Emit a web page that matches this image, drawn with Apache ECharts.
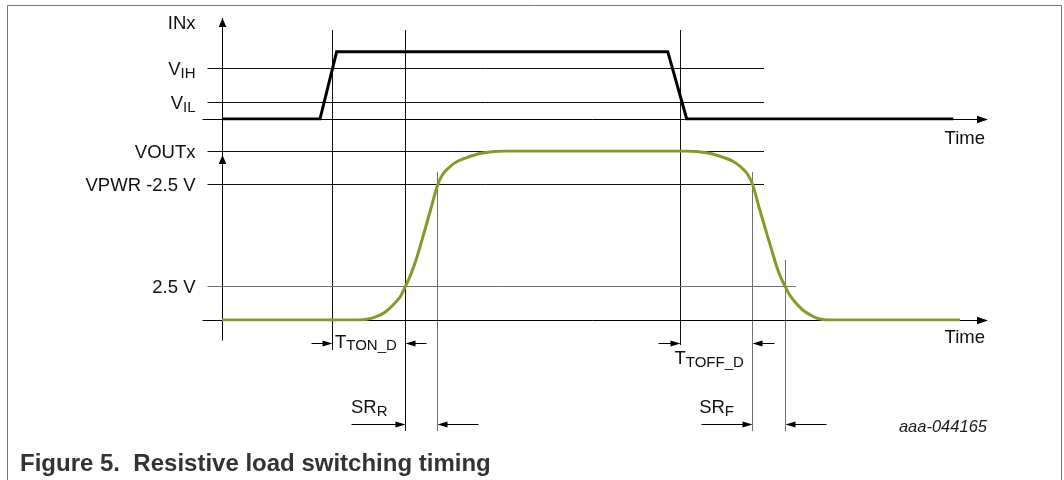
<!DOCTYPE html>
<html>
<head>
<meta charset="utf-8">
<title>Resistive load switching timing</title>
<script src="https://cdn.jsdelivr.net/npm/echarts@6.0.0/dist/echarts.min.js"></script>
<style>
  html, body { margin: 0; padding: 0; background: #ffffff; }
  #chart { width: 1064px; height: 480px; }
</style>
</head>
<body>
<div id="chart"></div>
<script>
// ---------- time base shared by both traces (arbitrary units) ----------
const timeMin = 0;
const timeMax = 100;

// ---------- INx input drive ----------
const inTimes  = [0, 12.79, 14.97, 58.19, 60.67, 95.47];
const inLevels = [0, 0, 1, 1, 0, 0];
const inLevelMax = 1.5;
const inThresholdMain   = ['V', 'V'];
const inThresholdSub    = ['IH', 'IL'];
const inThresholdLevels = [0.75, 0.25];
const inThresholdEnd    = 70.76;

// ---------- VOUTx output, volts (VPWR = 12.5 V) ----------
const outTimes = [0, 17.75, 19.06, 20.23, 21.41, 22.45, 23.24, 23.96, 24.54, 25.33, 26.33, 27.15, 28.16,
                  28.85, 29.77, 30.81, 31.98, 33.68, 35.51, 36.95,
                  60.50, 61.93, 63.76, 65.46, 66.63, 67.68, 68.59, 69.28,
                  70.10, 71.11, 71.80, 72.42, 72.98, 73.50, 74.15, 75.03, 75.98, 77.19, 78.07, 79.15, 96.34];
const outVolts = [0, 0, 0.07, 0.26, 0.63, 1.18, 1.70, 2.5, 3.22, 4.44, 6.36, 7.99, 10,
                  10.80, 11.35, 11.76, 12.02, 12.31, 12.46, 12.5,
                  12.5, 12.46, 12.31, 12.02, 11.76, 11.35, 10.80, 10,
                  8.36, 6.41, 5.10, 3.94, 3.11, 2.5, 1.81, 1.18, 0.67, 0.26, 0.07, 0, 0];
const outVoltMax = 12.5;
const outLevelLabels = ['VOUTx', 'VPWR -2.5 V', '2.5 V'];
const outLevelVolts  = [12.5, 10, 2.5];
const outLevelEnds   = [70.76, 70.76, 74.93];

// ---------- timing guides and measured intervals ----------
const guideTimes = [14.4, 23.96, 28.16, 59.9, 69.28, 73.5];
const spanMain  = ['T', 'SR', 'T', 'SR'];
const spanSub   = ['TON_D', 'R', 'TOFF_D', 'F'];
const spanStart = [14.4, 23.96, 59.9, 69.28];
const spanEnd   = [23.96, 28.16, 69.28, 73.5];

const axisTitleIn = 'INx';
const axisTitleTime = 'Time';
const figureId = 'aaa-044165';
const caption = 'Figure 5.  Resistive load switching timing';

// ---------- styling ----------
const FONT  = '"Liberation Sans", Arial, Helvetica, sans-serif';
const INK   = '#111111';
const GREY  = '#707070';
const OLIVE = '#8b9728';

// guide extents (px) and tones, one per guide time
const guideTop    = [30, 30, 172, 30, 172, 260];
const guideBottom = [350, 431, 431, 345, 431, 431];
const guideColor  = [INK, INK, GREY, INK, GREY, GREY];

// interval marker layout, one per span
const spanRowY    = [343, 424, 343, 424];
const spanTailIn  = [21, 54, 22, 51];
const spanTailOut = [21, 41, 22, 41];
const spanLabelDx = [2.5, -18, -6, -18.5];
const spanLabelY  = [342.5, 408, 359, 408];
const spanAlign   = ['left', 'right', 'left', 'right'];
const spanSubDeep = [true, false, true, false];

const chart = echarts.init(document.getElementById('chart'), null, { renderer: 'canvas' });

chart.setOption({
  animation: false,
  backgroundColor: '#ffffff',
  grid: [
    { left: 222, right: 76, top: 18, height: 101 },
    { left: 222, right: 76, top: 151, height: 169 }
  ],
  xAxis: [
    { type: 'value', gridIndex: 0, min: timeMin, max: timeMax, show: false },
    { type: 'value', gridIndex: 1, min: timeMin, max: timeMax, show: false }
  ],
  yAxis: [
    { type: 'value', gridIndex: 0, min: 0, max: inLevelMax, show: false },
    { type: 'value', gridIndex: 1, min: 0, max: outVoltMax, show: false }
  ],
  series: [
    {
      name: 'INx', type: 'line', xAxisIndex: 0, yAxisIndex: 0, z: 4, silent: true,
      data: inTimes.map((t, i) => [t, inLevels[i]]),
      symbol: 'none',
      lineStyle: { color: '#000000', width: 3, join: 'miter' }
    },
    {
      name: 'VOUTx', type: 'line', xAxisIndex: 1, yAxisIndex: 1, z: 4, silent: true,
      data: outTimes.map((t, i) => [t, outVolts[i]]),
      symbol: 'none', smooth: 0.3,
      lineStyle: { color: OLIVE, width: 3 }
    }
  ]
});

// ---------- annotation layer, placed through the grid scales ----------
const p0 = (t, v) => chart.convertToPixel({ gridIndex: 0 }, [t, v]);
const p1 = (t, v) => chart.convertToPixel({ gridIndex: 1 }, [t, v]);
const X = t => p0(t, 0)[0];
const yIn = v => p0(timeMin, v)[1];
const yOut = v => p1(timeMin, v)[1];
const crisp = v => Math.floor(v) + 0.5;

const axisX = crisp(X(timeMin));
const tipX = X(timeMax);
const inBase = crisp(yIn(0));
const outBase = crisp(yOut(0));

const els = [];
function seg(x1, y1, x2, y2, stroke, z, lw) {
  els.push({ type: 'line', silent: true, z: z || 3,
    shape: { x1, y1, x2, y2 }, style: { stroke, lineWidth: lw || 1 } });
}
function head(tx, ty, dir, L, W, z) {
  let pts;
  if (dir === 'up') pts = [[tx, ty], [tx - W, ty + L], [tx + W, ty + L]];
  else if (dir === 'right') pts = [[tx, ty], [tx - L, ty - W], [tx - L, ty + W]];
  else pts = [[tx, ty], [tx + L, ty - W], [tx + L, ty + W]];
  els.push({ type: 'polygon', silent: true, z: z || 5, shape: { points: pts }, style: { fill: '#000000' } });
}
const RICH = {
  m:  { fontFamily: FONT, fontSize: 18.5, lineHeight: 22, fill: INK },
  s:  { fontFamily: FONT, fontSize: 15, lineHeight: 14, verticalAlign: 'bottom', fill: INK },
  sd: { fontFamily: FONT, fontSize: 15, lineHeight: 10, verticalAlign: 'bottom', fill: INK }
};
function label(main, sub, x, y, align, deep) {
  const text = sub ? `{m|${main}}{${deep ? 'sd' : 's'}|${sub}}` : `{m|${main}}`;
  els.push({ type: 'text', silent: true, z: 6, x, y,
    style: { text, rich: RICH, align, verticalAlign: 'middle' } });
}

// figure frame
els.push({ type: 'rect', silent: true, z: 0,
  shape: { x: 7.5, y: 5.5, width: 1054, height: 520 },
  style: { fill: 'none', stroke: '#777777', lineWidth: 1 } });

// timing guides (drawn under the traces)
guideTimes.forEach((t, i) => {
  const gx = crisp(X(t));
  seg(gx, guideTop[i], gx, guideBottom[i], guideColor[i], 1);
});

// vertical level axis shared by both traces
seg(axisX, yIn(inLevelMax), axisX, outBase + 20, '#000000', 3);
head(axisX, yIn(inLevelMax), 'up', 9, 3.8);
head(axisX, yOut(outVoltMax) + 4, 'up', 9, 3.8);

// time axes
seg(axisX - 20, inBase, tipX - 6, inBase, '#000000', 3);
head(tipX, inBase, 'right', 11, 3.8);
seg(axisX - 20, outBase, tipX - 6, outBase, '#000000', 3);
head(tipX, outBase, 'right', 11, 3.8);
label(axisTitleTime, null, tipX - 3, inBase + 19, 'right');
label(axisTitleTime, null, tipX - 3, outBase + 17, 'right');

// INx thresholds
label(axisTitleIn, null, axisX - 27, yIn(inLevelMax) + 6, 'right');
inThresholdLevels.forEach((lv, i) => {
  const ly = crisp(yIn(lv));
  seg(axisX - 15, ly, X(inThresholdEnd), ly, INK, 2);
  label(inThresholdMain[i], inThresholdSub[i], axisX - 27, ly + 1.5, 'right');
});

// VOUTx levels
outLevelVolts.forEach((v, i) => {
  const ly = crisp(yOut(v));
  seg(axisX - 15, ly, X(outLevelEnds[i]), ly, v === 2.5 ? GREY : INK, 2);
  label(outLevelLabels[i], null, axisX - 27, ly + 1.5, 'right');
});

// interval markers
spanStart.forEach((ts, i) => {
  const xs = crisp(X(ts));
  const xe = crisp(X(spanEnd[i]));
  const ry = spanRowY[i] + 0.5;
  seg(xs - spanTailIn[i], ry, xs - 8, ry, '#000000', 5);
  head(xs, ry, 'right', 10, 3);
  seg(xe + spanTailOut[i], ry, xe + 8, ry, '#000000', 5);
  head(xe, ry, 'left', 10, 3);
  label(spanMain[i], spanSub[i], xs + spanLabelDx[i], spanLabelY[i], spanAlign[i], spanSubDeep[i]);
});

// figure id and caption
els.push({ type: 'text', silent: true, z: 6, x: tipX - 1, y: 427.5,
  style: { text: figureId, fontFamily: FONT, fontSize: 16.5, fontStyle: 'italic',
           fill: '#1a1a1a', align: 'right', verticalAlign: 'middle' } });
els.push({ type: 'text', silent: true, z: 6, x: 20, y: 464,
  style: { text: caption, fontFamily: FONT, fontSize: 24, fontWeight: 'bold',
           fill: '#333333', align: 'left', verticalAlign: 'middle' } });

chart.setOption({ graphic: { elements: els } });
</script>
</body>
</html>
